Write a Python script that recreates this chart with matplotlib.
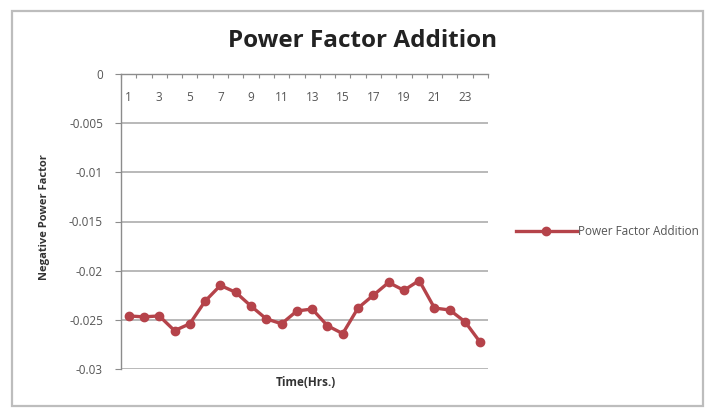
import matplotlib
matplotlib.use("Agg")
import matplotlib.pyplot as plt
from matplotlib.patches import Rectangle
import matplotlib.transforms as mtransforms

hours = list(range(1, 25))
power_factor = [-0.0246, -0.0247, -0.0246, -0.0261, -0.0254, -0.0231,
                -0.0215, -0.0222, -0.0236, -0.0249, -0.0254, -0.0241,
                -0.0239, -0.0256, -0.0264, -0.0238, -0.0225, -0.0212,
                -0.0220, -0.0210, -0.0238, -0.0240, -0.0252, -0.0273]
y_ticks = [0, -0.005, -0.01, -0.015, -0.02, -0.025, -0.03]
y_tick_labels = ["0", "-0.005", "-0.01", "-0.015", "-0.02", "-0.025", "-0.03"]
x_label_hours = list(range(1, 25, 2))

plt.rcParams['font.family'] = ['Open Sans', 'DejaVu Sans']

fig = plt.figure(figsize=(7.10, 4.09), dpi=100)
fig.patch.set_facecolor("white")

# outer chart frame
fig.patches.append(Rectangle((12 / 710, 1 - 406 / 409), 691 / 710, 395 / 409,
                             transform=fig.transFigure, fill=False,
                             edgecolor="#bdbdbd", linewidth=1.6))

ax = fig.add_axes([121 / 710, 1 - 369 / 409, 367 / 710, 295 / 409])

line_color = "#b5434a"
ax.plot(hours, power_factor, color=line_color, linewidth=2.4,
        marker="o", markersize=6, markerfacecolor=line_color,
        markeredgecolor=line_color, label="Power Factor Addition")

ax.set_xlim(0.5, 24.5)
ax.set_ylim(-0.03, 0)
ax.set_yticks(y_ticks)
ax.set_yticklabels(y_tick_labels)
ax.yaxis.grid(True, color="#a6a6a6", linewidth=1.1)
ax.set_axisbelow(True)

for side in ["right", "bottom"]:
    ax.spines[side].set_visible(False)
for side in ["left", "top"]:
    ax.spines[side].set_color("#8c8c8c")
    ax.spines[side].set_linewidth(1.0)

ax.tick_params(axis="y", direction="out", length=4, color="#8c8c8c",
               labelsize=8.5, labelcolor="#555555", pad=9)

# category axis sits on the zero line at the top, ticks point down
ax.xaxis.tick_top()
ax.set_xticks([h + 0.5 for h in range(0, 25)])
ax.set_xticklabels([])
ax.tick_params(axis="x", direction="in", length=3, color="#8c8c8c")
trans = mtransforms.blended_transform_factory(ax.transData, ax.transAxes)
for h in x_label_hours:
    ax.text(h, 0.922, str(h), transform=trans, ha="center", va="center",
            fontsize=8.5, color="#555555")

fig.text(363 / 710, 1 - 41 / 409, "Power Factor Addition", ha="center",
         va="center", fontsize=17.5, fontweight="bold", color="#222222")
fig.text(306 / 710, 1 - 382 / 409, "Time(Hrs.)", ha="center", va="center",
         fontsize=8.5, fontweight="bold", color="#333333")
fig.text(45 / 710, 1 - 217 / 409, "Negative Power Factor", ha="center",
         va="center", rotation=90, fontsize=8, fontweight="bold",
         color="#333333")

leg = fig.legend(loc="center left", bbox_to_anchor=(505 / 710, 1 - 232 / 409),
                 frameon=False, fontsize=8.5, handlelength=5.2,
                 handletextpad=0.1, labelcolor="#555555")

fig.savefig("out.png", dpi=100, facecolor="white")
